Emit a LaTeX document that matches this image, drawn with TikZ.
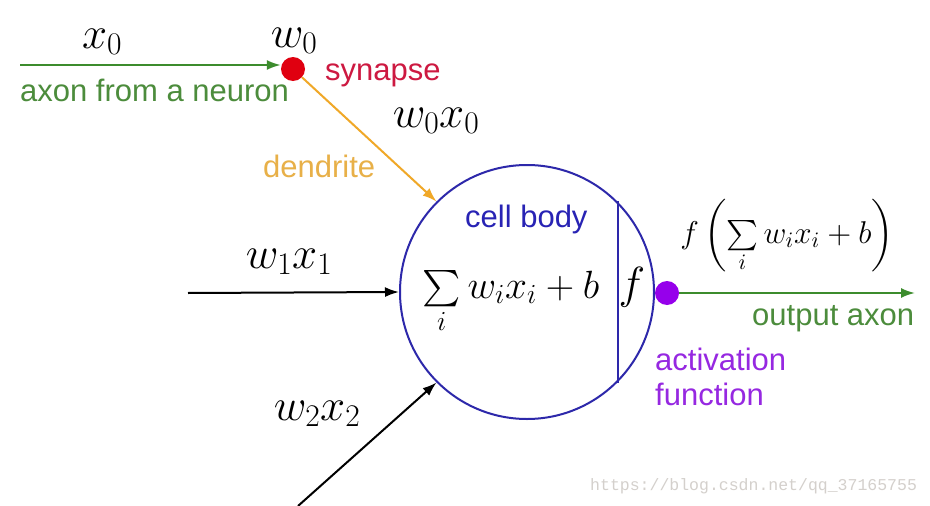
\RequirePackage{fix-cm}
\documentclass[tikz,border=0pt]{standalone}
\usepackage{exscale}
\usepackage{graphicx}
\usepackage[no-math]{fontspec}
\setmainfont{Liberation Sans}
\setmonofont{Liberation Mono}
\usetikzlibrary{arrows.meta}
\definecolor{axongreen}{RGB}{60,140,45}
\definecolor{axontext}{RGB}{76,140,60}
\definecolor{synred}{RGB}{224,0,16}
\definecolor{syntext}{RGB}{205,25,65}
\definecolor{dendorange}{RGB}{240,168,40}
\definecolor{dendtext}{RGB}{232,176,72}
\definecolor{cellblue}{RGB}{45,40,170}
\definecolor{celltext}{RGB}{40,35,180}
\definecolor{actpurple}{RGB}{150,0,235}
\definecolor{acttext}{RGB}{150,40,225}
\definecolor{wmgray}{RGB}{212,208,204}
\begin{document}
\begin{tikzpicture}[x=1pt,y=-1pt,
  txt/.style={font=\fontsize{31}{35}\selectfont, inner sep=0pt},
  bigmath/.style={font=\fontsize{45}{54}\selectfont, inner sep=0pt},
  halfmath/.style={font=\fontsize{22.5}{27}\selectfont, inner sep=0pt},
  smallmath/.style={font=\fontsize{15}{18}\selectfont, inner sep=0pt},
  arr/.style={line width=2pt, -{Latex[length=14pt,width=10pt]}},
  dot/.style={circle, minimum size=24pt, inner sep=0pt}]
\useasboundingbox[fill=white] (0,0) rectangle (930,506);
% cell body
\node[circle, draw=cellblue, line width=2pt, minimum size=254pt, inner sep=0pt] (cell) at (527,292) {};
\draw[cellblue, line width=2pt] (cell.45) -- (cell.-45);
% synapse dot
\node[dot, fill=synred] (syn) at (293,69) {};
\node[dot, fill=actpurple] (act) at (667,293) {};
% coordinates
\coordinate (a0) at (20,65);
\coordinate (i1) at (188,293);
\coordinate (i2) at (298,506);
\coordinate (out) at (915,293);
% connectors
\draw[arr, axongreen] (a0) -- (a0 -| syn.west);
\draw[arr, dendorange] (syn) -- (cell.135);
\draw[arr, black] (i1) -- (cell.west);
\draw[arr, black] (i2) -- (cell.-135);
\draw[arr, axongreen] (act) -- (out);
% text labels
\node[txt, text=axontext, anchor=base west] (lax) at (20,101) {axon from a neuron};
\node[txt, text=syntext, anchor=base west] (lsyn) at (325,80) {synapse};
\node[txt, text=dendtext, anchor=base west] (lden) at (263,177) {dendrite};
\node[txt, text=celltext, anchor=base west] (lcell) at (465,227) {cell body};
\node[txt, text=axontext, anchor=base west] (lout) at (752,325) {output axon};
\node[txt, text=acttext, anchor=base west, align=left] (lact) at (655,405) {activation\\function};
% math labels
\node[bigmath, anchor=base] (mx0) at (102,48) {$x_0$};
\node[bigmath, anchor=base] (mw0) at (294,47) {$w_0$};
\node[bigmath, anchor=base] (mw0x0) at (436,127) {$w_0x_0$};
\node[bigmath, anchor=base] (mw1x1) at (289,268) {$w_1x_1$};
\node[bigmath, anchor=base] (mw2x2) at (317,420) {$w_2x_2$};
\node[halfmath, anchor=base] (msum) at (511,298) {\scalebox{1.75}{$\sum\limits_i w_ix_i+b$}};
\node[bigmath, anchor=base] (mf) at (632,298) {$f$};
\node[smallmath, anchor=base] (mout) at (787,243) {\scalebox{2.1}{$f\left(\sum\limits_i w_ix_i+b\right)$}};
% watermark
\node[inner sep=0pt, anchor=base west, text=wmgray, font=\ttfamily\fontsize{16.5}{20}\selectfont] (wm) at (590,490) {https://blog.csdn.net/qq\_37165755};
\end{tikzpicture}
\end{document}
